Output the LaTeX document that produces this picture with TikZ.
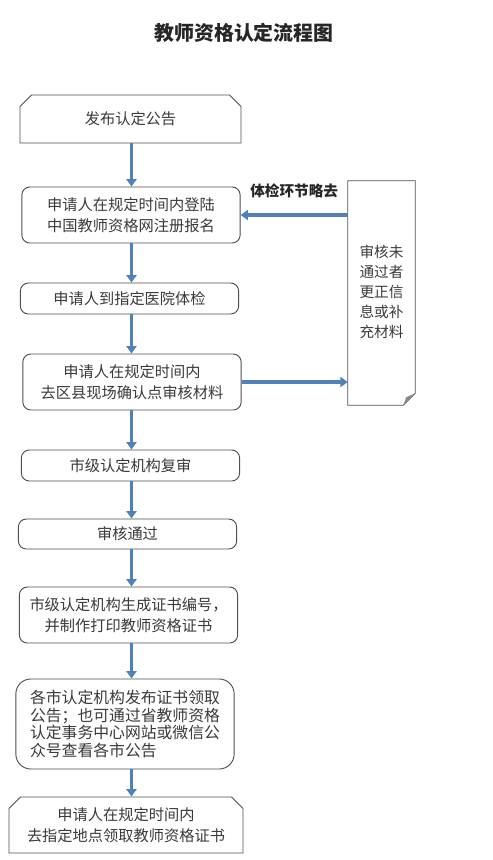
\documentclass[tikz,border=0pt]{standalone}
\usepackage{fontspec}
\setmainfont{Noto Sans CJK SC}
\usepackage{xcolor}
\usepackage{tikz}
\usetikzlibrary{positioning,calc,shapes.misc,arrows.meta}
\definecolor{flowblue}{HTML}{4F81BD}
\definecolor{boxline}{HTML}{505050}
\definecolor{boxtext}{HTML}{3A3A3A}
\tikzset{
  % --- process steps ---
  stepbox/.style={draw=boxline, line width=0.8pt, rounded corners=2.4mm,
                  fill=white, align=center, text=boxtext, inner sep=2pt,
                  font=\fontsize{13}{18}\selectfont, minimum width=6.55cm},
  % --- first / last step: top corners cut off ---
  cutbox/.style={stepbox, rounded corners=0pt, chamfered rectangle,
                 chamfered rectangle corners={north west,north east},
                 chamfered rectangle xsep=2.2mm},
  % --- side note with folded corner (outline drawn by hand) ---
  notebox/.style={align=center, text=boxtext, inner sep=0pt,
                  font=\fontsize{12.5}{17}\selectfont,
                  minimum width=2.01cm, minimum height=6.48cm},
  flow/.style={draw=flowblue, line width=3pt,
               -{Triangle[length=2.2mm,width=3mm]}},
  skiplabel/.style={font=\fontsize{12.5}{15}\selectfont\bfseries,
                    text=black!85, inner sep=0pt},
}

\begin{document}
\begin{tikzpicture}[x=0.03cm,y=-0.03cm]
  \useasboundingbox (0,0) rectangle (492,860);
  \node[font=\fontsize{17}{20}\selectfont\bfseries, text=black!85] (title) at (244,33) {教师资格认定流程图};

  % main column of steps, top to bottom
  \node[cutbox, minimum width=6.63cm, minimum height=1.44cm] (b1) at (130.5,119) {发布认定公告};
  \node[stepbox, minimum height=1.68cm] (b2) at (131,215) {申请人在规定时间内登陆\\中国教师资格网注册报名};
  \node[stepbox, minimum height=0.93cm] (b3) at (129.5,298.5) {申请人到指定医院体检};
  \node[stepbox, minimum height=1.68cm] (b4) at (132,382) {申请人在规定时间内\\去区县现场确认点审核材料};
  \node[stepbox, minimum height=0.93cm] (b5) at (130.5,465.5) {市级认定机构复审};
  \node[stepbox, minimum height=0.90cm] (b6) at (127.5,534) {审核通过};
  \node[stepbox, minimum height=1.68cm] (b7) at (128.5,615) {市级认定机构生成证书编号，\\并制作打印教师资格证书};
  \node[stepbox, minimum height=2.70cm, rounded corners=4.5mm, align=left,
        font=\fontsize{13.5}{15}\selectfont] (b8) at (125,724)
        {各市认定机构发布证书领取\\公告；也可通过省教师资格\\认定事务中心网站或微信公\\众号查看各市公告};
  \node[cutbox, minimum width=7.02cm, minimum height=1.68cm] (b9) at (126,825) {申请人在规定时间内\\去指定地点领取教师资格证书};

  % side note
  \node[notebox] (fix) at (381.5,292) {审核未\\通过者\\更正信\\息或补\\充材料};
  \draw[boxline, line width=0.8pt] ($(fix.south west)+(0,5)$) -- ($(fix.north west)+(0,-3)$)
        -- ($(fix.north east)+(0,-3)$) -- ($(fix.south east)+(0,-7)$)
        -- ($(fix.south east)+(-12,5)$) -- cycle;
  \fill[black!45] ($(fix.south east)+(0,-7)$) -- ($(fix.south east)+(-9,-3)$)
        .. controls ($(fix.south east)+(-10,1)$) .. ($(fix.south east)+(-12,5)$) -- cycle;

  % arrows down the column, all on one vertical line
  \coordinate (spine) at (131.5,0);
  \foreach \a/\b in {b1/b2,b2/b3,b3/b4,b4/b5,b5/b6,b6/b7,b7/b8,b8/b9}
    \draw[flow] (\a.south -| spine) -- (\b.north -| spine);

  % loop through the side note
  \draw[flow] (b4.east) -- (b4.east -| fix.west);
  \draw[flow] (fix.west |- b2.east) -- node[skiplabel, yshift=0.72cm]{体检环节略去} (b2.east);
\end{tikzpicture}
\end{document}
